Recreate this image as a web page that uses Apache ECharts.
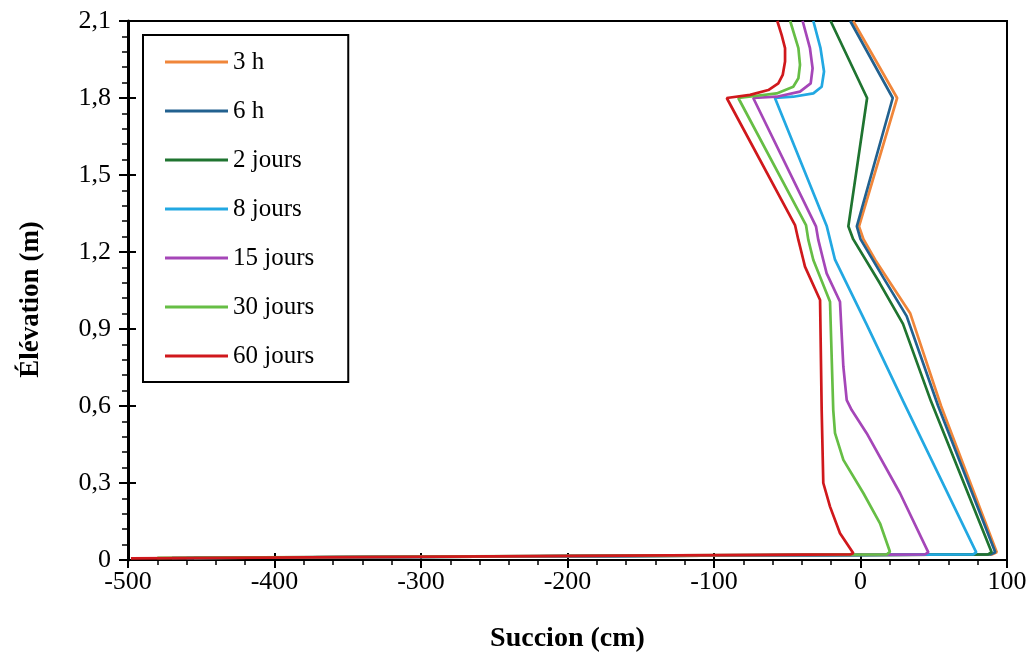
<!DOCTYPE html>
<html>
<head>
<meta charset="utf-8">
<script src="https://cdn.jsdelivr.net/npm/echarts@6/dist/echarts.min.js"></script>
<style>
  html, body { margin: 0; padding: 0; background: #fff; }
  #chart { width: 1031px; height: 659px; }
</style>
</head>
<body>
<div id="chart"></div>
<script>
// Suction profiles: [succion (cm), élévation (m)]
const h3 = [[-5, 2.1], [25, 1.8], [-1, 1.3], [2, 1.25], [10, 1.17], [18, 1.1], [34, 0.96], [55, 0.6], [93, 0.03], [90, 0.022], [-455, 0.008]];
const h6 = [[-7, 2.1], [22, 1.8], [-2.5, 1.3], [0, 1.25], [15.6, 1.1], [31.5, 0.95], [53, 0.6], [92, 0.03], [89, 0.022], [-455, 0.008]];
const j2 = [[-20.4, 2.1], [4.5, 1.8], [-8.3, 1.3], [-5, 1.25], [13, 1.08], [29, 0.92], [48, 0.62], [89.5, 0.03], [87, 0.022], [-455, 0.008]];
const j8 = [[-32.2, 2.1], [-27.3, 1.994], [-24.9, 1.903], [-26.5, 1.844], [-32.2, 1.818], [-45.9, 1.805], [-58.4, 1.8], [-23, 1.3], [-17.4, 1.17], [4, 0.92], [29, 0.62], [79, 0.03], [77, 0.022], [-460, 0.008]];
const j15 = [[-39.5, 2.1], [-34.5, 1.994], [-32.7, 1.916], [-34, 1.857], [-41.3, 1.825], [-57.2, 1.805], [-73.2, 1.8], [-30.4, 1.3], [-28.8, 1.247], [-25.4, 1.169], [-23.1, 1.117], [-14, 1.006], [-11.7, 0.753], [-9.4, 0.623], [-6, 0.584], [4.2, 0.494], [27, 0.26], [46.3, 0.03], [44, 0.022], [-470, 0.008]];
const j30 = [[-48, 2.1], [-42.4, 1.994], [-41.3, 1.929], [-42.4, 1.877], [-45.9, 1.844], [-57.2, 1.818], [-83.4, 1.8], [-37.2, 1.305], [-35.6, 1.247], [-32.2, 1.169], [-20.8, 1.006], [-18.6, 0.584], [-17.4, 0.494], [-11.7, 0.39], [2, 0.26], [13.3, 0.143], [20.1, 0.032], [18, 0.022], [-480, 0.008]];
const j60 = [[-56.8, 2.1], [-53.8, 2.045], [-51.5, 1.994], [-51.5, 1.942], [-53.1, 1.89], [-56.1, 1.857], [-62.9, 1.831], [-75.4, 1.812], [-91.3, 1.8], [-44.7, 1.305], [-42.4, 1.247], [-39, 1.169], [-37.9, 1.143], [-27.6, 1.013], [-26.5, 0.584], [-25.4, 0.3], [-20.8, 0.208], [-14, 0.104], [-4.9, 0.026], [-7, 0.022], [-498, 0.006]];

const seriesNames = ['3 h', '6 h', '2 jours', '8 jours', '15 jours', '30 jours', '60 jours'];
const seriesData = [h3, h6, j2, j8, j15, j30, j60];
const seriesColors = ['#F0863A', '#22618F', '#1F7430', '#22A8E2', '#A546B8', '#66BE45', '#D0181C'];

const xTicks = { min: -500, max: 100, interval: 100 };
const yTicks = { min: 0, max: 2.1, interval: 0.3 };

const serif = 'Liberation Serif';

const fmtY = v => (Math.abs(v) < 1e-9 ? '0' : v.toFixed(1).replace('.', ','));

const chart = echarts.init(document.getElementById('chart'), null, { renderer: 'canvas' });

const option = {
  animation: false,
  backgroundColor: '#fff',
  grid: {
    left: 128, right: 24, top: 21, bottom: 99,
    show: true, borderColor: '#000', borderWidth: 2, backgroundColor: 'transparent'
  },
  legend: {
    orient: 'vertical',
    left: 143, top: 35,
    padding: [14, 34, 13, 22],
    borderColor: '#000', borderWidth: 2,
    backgroundColor: '#fff',
    icon: 'rect',
    itemWidth: 63, itemHeight: 3,
    itemGap: 23,
    textStyle: { fontFamily: serif, fontSize: 25, color: '#000', lineHeight: 26 },
    data: seriesNames
  },
  xAxis: [
    {
      type: 'value', position: 'bottom',
      min: xTicks.min, max: xTicks.max, interval: xTicks.interval,
      name: 'Succion (cm)', nameLocation: 'middle', nameGap: 65,
      nameTextStyle: { fontFamily: serif, fontSize: 28, fontWeight: 'bold', color: '#000' },
      axisLine: { show: true, onZero: false, lineStyle: { color: '#000', width: 2 } },
      axisTick: { show: true, inside: false, length: 8, lineStyle: { color: '#000', width: 2 } },
      minorTick: { show: true, splitNumber: 5, length: 5, lineStyle: { color: '#000', width: 1.5 } },
      splitLine: { show: false },
      axisLabel: { margin: 9, fontFamily: serif, fontSize: 26, color: '#000' }
    },
    {
      type: 'value', position: 'bottom',
      min: xTicks.min, max: xTicks.max, interval: xTicks.interval,
      axisLine: { show: false, onZero: false },
      axisTick: { show: true, inside: true, length: 7, lineStyle: { color: '#000', width: 2 } },
      axisLabel: { show: false },
      splitLine: { show: false }
    }
  ],
  yAxis: [
    {
      type: 'value', position: 'left',
      min: yTicks.min, max: yTicks.max, interval: yTicks.interval,
      name: 'Élévation (m)', nameLocation: 'middle', nameGap: 83, nameRotate: 90,
      nameTextStyle: { fontFamily: serif, fontSize: 27, fontWeight: 'bold', color: '#000', padding: [0, 18, 0, 0] },
      axisLine: { show: true, onZero: false, lineStyle: { color: '#000', width: 3 } },
      axisTick: { show: true, inside: false, length: 9, lineStyle: { color: '#000', width: 2 } },
      minorTick: { show: true, splitNumber: 5, length: 6, lineStyle: { color: '#000', width: 1.5 } },
      splitLine: { show: false },
      axisLabel: { margin: 17, fontFamily: serif, fontSize: 26, color: '#000', formatter: fmtY }
    },
    {
      type: 'value', position: 'left',
      min: yTicks.min, max: yTicks.max, interval: yTicks.interval,
      axisLine: { show: false, onZero: false },
      axisTick: { show: true, inside: true, length: 8, lineStyle: { color: '#000', width: 2 } },
      axisLabel: { show: false },
      splitLine: { show: false }
    }
  ],
  series: seriesNames.map((name, i) => ({
    name: name,
    type: 'line',
    xAxisIndex: 0, yAxisIndex: 0,
    data: seriesData[i],
    showSymbol: false,
    symbol: 'none',
    smooth: false,
    color: seriesColors[i],
    lineStyle: { color: seriesColors[i], width: 2.7 },
    z: 2 + i
  }))
};

chart.setOption(option);
</script>
</body>
</html>
